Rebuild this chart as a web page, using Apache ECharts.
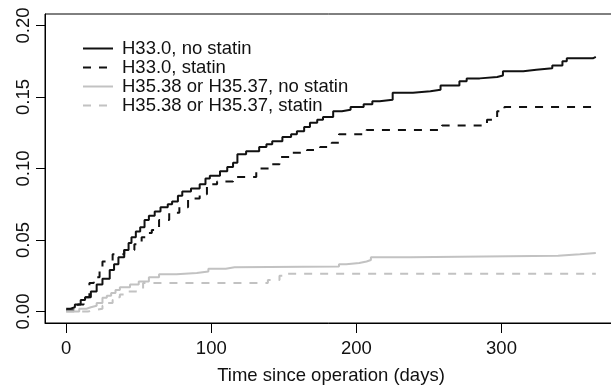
<!DOCTYPE html>
<html>
<head>
<meta charset="utf-8">
<script src="https://cdn.jsdelivr.net/npm/echarts@6/dist/echarts.min.js"></script>
<style>
html,body{margin:0;padding:0;background:#fff;overflow:hidden;}
#chart{width:611px;height:386px;}
</style>
</head>
<body>
<div id="chart"></div>
<script>
// Series names
const seriesNames = ["H33.0, no statin", "H33.0, statin", "H35.38 or H35.37, no statin", "H35.38 or H35.37, statin"];

// H33.0, no statin (step curve: day, cumulative incidence)
const h33NoStatinDays = [0,3,6,10,13,17,21,25,30,33,36,40,43,45,48,51,54,57,61,65,70,73,77,80,86,92,96,99,106,111,115,118,124,133,138,142,149,155,159,164,168,173,177,184,190,196,205,211,216,225,239,251,258,271,276,285,297,301,315,324,335,342,345,363,365];
const h33NoStatinVals = [0.002,0.003,0.005,0.008,0.010,0.014,0.019,0.023,0.029,0.033,0.038,0.043,0.048,0.052,0.056,0.059,0.064,0.067,0.070,0.073,0.075,0.077,0.081,0.084,0.086,0.089,0.093,0.095,0.098,0.101,0.104,0.110,0.112,0.115,0.117,0.119,0.122,0.124,0.126,0.129,0.132,0.134,0.136,0.140,0.141,0.143,0.145,0.147,0.148,0.153,0.154,0.155,0.158,0.161,0.163,0.164,0.165,0.168,0.169,0.170,0.172,0.175,0.177,0.178,0.178];

// H33.0, statin
const h33StatinDays = [0,5,8,12,16,19,23,25,32,40,47,52,56,59,64,71,78,84,92,97,104,115,131,140,147,154,166,175,183,188,207,259,290,297,302,365];
const h33StatinVals = [0.001,0.003,0.005,0.010,0.020,0.024,0.029,0.035,0.040,0.043,0.047,0.052,0.055,0.057,0.064,0.069,0.073,0.079,0.082,0.089,0.091,0.094,0.100,0.103,0.108,0.111,0.113,0.115,0.118,0.124,0.127,0.130,0.134,0.140,0.143,0.143];

// H35.38 or H35.37, no statin
const h35NoStatinDays = [0,9,14,17,21,25,28,31,34,37,44,50,57,64,76,90,98,110,116,188,193,202,207,210,237,339,354,365];
const h35NoStatinVals = [0.000,0.002,0.003,0.004,0.006,0.0096,0.011,0.013,0.015,0.017,0.019,0.021,0.024,0.026,0.027,0.028,0.030,0.031,0.0315,0.033,0.034,0.035,0.036,0.038,0.039,0.040,0.041,0.041];

// H35.38 or H35.37, statin
const h35StatinDays = [0,15,20,25,28,32,35,37,42,48,53,139,147,149,365];
const h35StatinVals = [0.000,0.001,0.002,0.004,0.006,0.008,0.010,0.012,0.014,0.015,0.020,0.022,0.025,0.0265,0.0265];

// Tick labels
const xTicks = [0, 100, 200, 300];
const yTicks = [0, 0.05, 0.10, 0.15, 0.20];
const xTitle = "Time since operation (days)";

function pairs(days, vals) { return days.map((d, i) => [d, vals[i]]); }

const FONT = "'Liberation Sans', Arial, Helvetica, sans-serif";
const FS = 18.5;
const BLACK = '#111111';
const GREY = '#c2c2c2';

const chart = echarts.init(document.getElementById('chart'), null, {renderer: 'canvas'});

function mkSeries(name, days, vals, color, dashed) {
  return {
    name: name,
    type: 'line',
    step: 'end',
    symbol: 'none',
    data: pairs(days, vals),
    lineStyle: {color: color, width: 2, type: dashed ? [8, 8] : 'solid'},
    itemStyle: {color: color},
    animation: false
  };
}

chart.setOption({
  animation: false,
  backgroundColor: '#ffffff',
  textStyle: {fontFamily: FONT},
  grid: {left: 45, top: 14, width: 572, height: 309, containLabel: false, outerBoundsMode: 'none',
    show: true, borderColor: '#000', borderWidth: 1, backgroundColor: 'transparent'},
  legend: {
    orient: 'vertical',
    left: 77,
    top: 34,
    itemWidth: 30,
    itemHeight: 14,
    itemGap: 0,
    data: seriesNames,
    textStyle: {fontSize: FS, color: '#111', fontFamily: FONT, lineHeight: 19, padding: [0, 0, 0, 4]},
    itemStyle: {opacity: 0},
    selectedMode: false
  },
  xAxis: {
    type: 'value',
    min: -14.6,
    max: 379.6,
    name: xTitle,
    nameLocation: 'middle',
    nameGap: 43,
    nameTextStyle: {fontSize: FS, color: '#111', fontFamily: FONT},
    axisLine: {show: true, onZero: false, lineStyle: {color: '#000', width: 1}},
    axisTick: {show: true, length: 10, customValues: xTicks, lineStyle: {color: '#000', width: 1}},
    axisLabel: {show: true, customValues: xTicks, margin: 16, fontSize: FS, color: '#111', fontFamily: FONT},
    splitLine: {show: false}
  },
  yAxis: {
    type: 'value',
    min: -0.008,
    max: 0.208,
    axisLine: {show: true, onZero: false, lineStyle: {color: '#000', width: 1}},
    axisTick: {show: true, length: 9, customValues: yTicks, lineStyle: {color: '#000', width: 1}},
    axisLabel: {show: true, customValues: yTicks, rotate: 90, margin: 12, fontSize: FS, color: '#111', fontFamily: FONT,
      formatter: v => v.toFixed(2)},
    splitLine: {show: false}
  },
  series: [
    mkSeries(seriesNames[0], h33NoStatinDays, h33NoStatinVals, BLACK, false),
    mkSeries(seriesNames[1], h33StatinDays, h33StatinVals, BLACK, true),
    mkSeries(seriesNames[2], h35NoStatinDays, h35NoStatinVals, GREY, false),
    mkSeries(seriesNames[3], h35StatinDays, h35StatinVals, GREY, true)
  ]
});
</script>
</body>
</html>
